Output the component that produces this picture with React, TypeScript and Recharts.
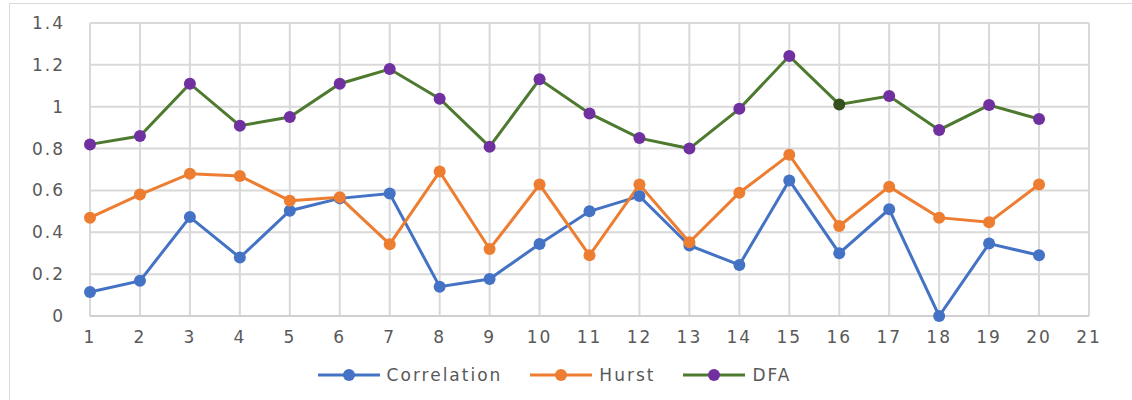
import { LineChart, Line, XAxis, YAxis, CartesianGrid, Legend } from 'recharts';

const points = [1, 2, 3, 4, 5, 6, 7, 8, 9, 10, 11, 12, 13, 14, 15, 16, 17, 18, 19, 20];
const correlation = [0.115, 0.168, 0.473, 0.279, 0.503, 0.562, 0.585, 0.14, 0.177, 0.344, 0.5, 0.573, 0.337, 0.244, 0.648, 0.3, 0.51, 0, 0.346, 0.29];
const hurst = [0.47, 0.58, 0.68, 0.669, 0.551, 0.567, 0.343, 0.69, 0.32, 0.628, 0.29, 0.628, 0.352, 0.589, 0.77, 0.43, 0.618, 0.47, 0.448, 0.628];
const dfa = [0.82, 0.86, 1.11, 0.909, 0.951, 1.11, 1.18, 1.038, 0.809, 1.131, 0.968, 0.85, 0.8, 0.99, 1.242, 1.011, 1.051, 0.889, 1.008, 0.941];

const xTicks = [1, 2, 3, 4, 5, 6, 7, 8, 9, 10, 11, 12, 13, 14, 15, 16, 17, 18, 19, 20, 21];
const yTicks = [0, 0.2, 0.4, 0.6, 0.8, 1, 1.2, 1.4];

const data = points.map((x, i) => ({
  x,
  Correlation: correlation[i],
  Hurst: hurst[i],
  DFA: dfa[i],
}));

const BLUE = '#4472C4';
const ORANGE = '#ED7D31';
const GREEN = '#4E7A30';
const PURPLE = '#7030A0';
const TEXT = '#595959';
const FONT = '"DejaVu Sans", sans-serif';

const legendItems = [
  { name: 'Correlation', line: BLUE, dot: BLUE },
  { name: 'Hurst', line: ORANGE, dot: ORANGE },
  { name: 'DFA', line: GREEN, dot: PURPLE },
];

const CustomLegend = () => (
  <div style={{ display: 'flex', justifyContent: 'center', alignItems: 'center', paddingLeft: 20, gap: 28 }}>
    {legendItems.map((item) => (
      <div key={item.name} style={{ display: 'flex', alignItems: 'center' }}>
        <svg width={62} height={14}>
          <line x1={0} y1={7} x2={62} y2={7} stroke={item.line} strokeWidth={3} />
          <circle cx={31} cy={7} r={6} fill={item.dot} />
        </svg>
        <span style={{ marginLeft: 7, fontFamily: FONT, fontSize: 17, letterSpacing: 2, color: TEXT }}>
          {item.name}
        </span>
      </div>
    ))}
  </div>
);

type DotProps = { cx?: number; cy?: number; payload?: { x: number } };

const DfaDot = ({ cx, cy, payload }: DotProps) => {
  if (cx == null || cy == null) return null;
  const fill = payload && payload.x === 16 ? '#34501f' : PURPLE;
  return <circle cx={cx} cy={cy} r={6} fill={fill} />;
};

export default function App() {
  return (
    <div style={{ position: 'absolute', left: 0, top: 0, width: 1132, height: 400, background: '#fff', overflow: 'hidden' }}>
      <div style={{ position: 'absolute', left: 9, top: 3, width: 1140, height: 400, border: '1px solid #d9d9d9' }} />
      <LineChart
        width={1132}
        height={400}
        data={data}
        margin={{ top: 23, right: 43, left: 0, bottom: 5 }}
        style={{ position: 'absolute', left: 0, top: 0 }}
      >
        <CartesianGrid stroke="#d9d9d9" strokeWidth={2} />
        <XAxis
          dataKey="x"
          type="number"
          domain={[1, 21]}
          ticks={xTicks}
          interval={0}
          tickLine={false}
          tickSize={0}
          tickMargin={15}
          axisLine={{ stroke: '#d0d0d0', strokeWidth: 2 }}
          tick={{ fill: TEXT, fontSize: 17, fontFamily: FONT, letterSpacing: 2 }}
          height={49}
        />
        <YAxis
          type="number"
          domain={[0, 1.4]}
          ticks={yTicks}
          interval={0}
          axisLine={false}
          tickLine={false}
          tickSize={0}
          tickMargin={25}
          width={90}
          tick={{ fill: TEXT, fontSize: 17, fontFamily: FONT, letterSpacing: 2 }}
        />
        <Legend verticalAlign="bottom" height={30} content={<CustomLegend />} />
        <Line
          dataKey="Correlation"
          stroke={BLUE}
          strokeWidth={3}
          dot={{ r: 6, fill: BLUE, stroke: 'none' }}
          isAnimationActive={false}
        />
        <Line
          dataKey="Hurst"
          stroke={ORANGE}
          strokeWidth={3}
          dot={{ r: 6, fill: ORANGE, stroke: 'none' }}
          isAnimationActive={false}
        />
        <Line
          dataKey="DFA"
          stroke={GREEN}
          strokeWidth={3}
          dot={<DfaDot />}
          isAnimationActive={false}
        />
      </LineChart>
    </div>
  );
}
